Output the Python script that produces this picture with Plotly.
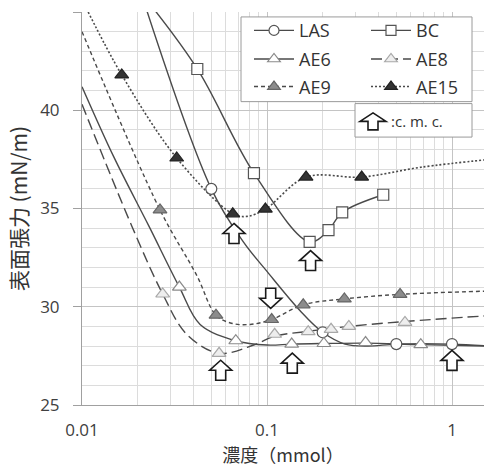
import plotly.graph_objects as go

# ---------------- data ----------------
x_tick_vals = [0.01, 0.1, 1]
x_tick_text = ["0.01", "0.1", "1"]
y_tick_vals = [25, 30, 35, 40, 45]

series_names = ["LAS", "BC", "AE6", "AE8", "AE9", "AE15"]

las_x = [0.05, 0.2, 0.5, 1.0]
las_y = [36.0, 28.7, 28.1, 28.1]
las_curve_x = [0.02, 0.05, 0.0745, 0.1, 0.151, 0.2, 0.264, 0.35, 0.5, 1.0, 1.6]
las_curve_y = [46.5, 36.0, 33.3, 31.8, 29.8, 28.7, 28.1, 28.0, 28.1, 28.1, 28.0]

bc_x = [0.042, 0.085, 0.17, 0.215, 0.255, 0.425]
bc_y = [42.1, 36.8, 33.3, 33.9, 34.8, 35.7]
bc_curve_x = [0.022, 0.042, 0.085, 0.17, 0.215, 0.255, 0.425]
bc_curve_y = [45.7, 42.1, 36.8, 33.3, 33.9, 34.8, 35.7]

ae6_x = [0.0336, 0.0678, 0.136, 0.203, 0.341, 0.678]
ae6_y = [31.0, 28.27, 28.1, 28.13, 28.18, 28.07]
ae6_curve_x = [0.01, 0.0149, 0.023, 0.0336, 0.0435, 0.0678, 0.1, 0.136, 0.203, 0.341, 0.678, 1.6]
ae6_curve_y = [41.2, 37.6, 34.1, 31.0, 29.1, 28.27, 28.05, 28.1, 28.13, 28.15, 28.07, 28.0]

ae8_x = [0.0273, 0.0551, 0.110, 0.167, 0.222, 0.277, 0.557]
ae8_y = [30.65, 27.63, 28.6, 28.73, 28.85, 29.0, 29.2]
ae8_curve_x = [0.01, 0.0186, 0.0273, 0.0368, 0.0551, 0.0862, 0.110, 0.167, 0.277, 0.557, 1.6]
ae8_curve_y = [40.3, 34.1, 30.65, 28.6, 27.63, 28.08, 28.5, 28.75, 29.0, 29.25, 29.55]

ae9_x = [0.0264, 0.053, 0.106, 0.157, 0.262, 0.524]
ae9_y = [34.93, 29.57, 29.35, 30.1, 30.4, 30.63]
ae9_curve_x = [0.01, 0.0264, 0.0417, 0.053, 0.065, 0.081, 0.106, 0.157, 0.262, 0.524, 1.6]
ae9_curve_y = [44.0, 34.93, 31.6, 29.57, 29.15, 29.1, 29.35, 30.1, 30.4, 30.63, 30.8]

ae15_x = [0.0164, 0.0325, 0.0653, 0.098, 0.1626, 0.325]
ae15_y = [41.8, 37.57, 34.73, 34.97, 36.6, 36.6]
ae15_curve_x = [0.0108, 0.0164, 0.0325, 0.0653, 0.078, 0.098, 0.1626, 0.325, 0.68, 1.6]
ae15_curve_y = [45.0, 41.8, 37.57, 34.73, 34.6, 34.97, 36.6, 36.6, 37.1, 37.5]

# c.m.c. arrows: concentration, vertical placement, direction
cmc_x = [0.0663, 0.172, 0.1047, 0.0562, 0.137, 1.0]
cmc_arrow_y = [33.73, 32.35, 30.43, 26.77, 27.13, 27.27]
cmc_dir = ["up", "up", "down", "up", "up", "up"]

cmc_label = ":c. m. c."
x_title = "濃度（mmol）"
y_title = "表面張力 (mN/m)"

# ---------------- styles ----------------
LINE = "#4a4a4a"
styles = {
    "LAS": dict(dash="solid", symbol="circle", fill="white", edge="#555555", size=11),
    "BC": dict(dash="solid", symbol="square", fill="white", edge="#555555", size=11),
    "AE6": dict(dash="solid", symbol="triangle-up", fill="white", edge="#8a8a8a", size=12),
    "AE8": dict(dash="11px,5px", symbol="triangle-up", fill="#eeeeee", edge="#a8a8a8", size=12),
    "AE9": dict(dash="4px,3px", symbol="triangle-up", fill="#8c8c8c", edge="#666666", size=12),
    "AE15": dict(dash="2px,2px", symbol="triangle-up", fill="#333333", edge="#222222", size=12),
}
data = {
    "LAS": (las_x, las_y, las_curve_x, las_curve_y),
    "BC": (bc_x, bc_y, bc_curve_x, bc_curve_y),
    "AE6": (ae6_x, ae6_y, ae6_curve_x, ae6_curve_y),
    "AE8": (ae8_x, ae8_y, ae8_curve_x, ae8_curve_y),
    "AE9": (ae9_x, ae9_y, ae9_curve_x, ae9_curve_y),
    "AE15": (ae15_x, ae15_y, ae15_curve_x, ae15_curve_y),
}

W, H = 490, 467
ML, MR, MT, MB = 82, 6, 12, 56
PW, PH = W - ML - MR, H - MT - MB

def px2paper_x(px):
    return (px - ML) / PW

def px2paper_y(py):
    return (H - MB - py) / PH

fig = go.Figure()

legend_pos = {
    "LAS": ("legend", 249, 31),
    "AE6": ("legend2", 249, 60),
    "AE9": ("legend3", 249, 88),
    "BC": ("legend4", 366, 31),
    "AE8": ("legend5", 366, 60),
    "AE15": ("legend6", 366, 88),
}

for name in series_names:
    mx, my, cx, cy = data[name]
    st = styles[name]
    lw = 1.4 if name != "AE15" else 1.6
    fig.add_trace(go.Scatter(
        x=cx, y=cy, mode="lines", line=dict(color=LINE, width=lw, dash=st["dash"], shape="spline", smoothing=1.0),
        showlegend=False, hoverinfo="skip"))
for name in series_names:
    mx, my, cx, cy = data[name]
    st = styles[name]
    fig.add_trace(go.Scatter(
        x=mx, y=my, mode="markers", name=name,
        marker=dict(symbol=st["symbol"], size=st["size"], color=st["fill"], line=dict(color=st["edge"], width=1.2)),
        showlegend=False, cliponaxis=False))
for name in series_names:
    st = styles[name]
    lw = 1.4 if name != "AE15" else 1.6
    fig.add_trace(go.Scatter(
        x=[None], y=[None], mode="lines+markers", name=name, legend=legend_pos[name][0],
        line=dict(color=LINE, width=lw, dash=st["dash"]),
        marker=dict(symbol=st["symbol"], size=st["size"] - 1, color=st["fill"], line=dict(color=st["edge"], width=1.2))))

legend_common = dict(bgcolor="rgba(0,0,0,0)", borderwidth=0, xanchor="left", yanchor="middle",
                     font=dict(family="Open Sans", size=18, color="#333333"), itemwidth=40)
layout_legends = {}
for name in series_names:
    key, lx, ly = legend_pos[name]
    layout_legends[key] = dict(x=px2paper_x(lx), y=px2paper_y(ly), **legend_common)

shapes = []
# legend box
shapes.append(dict(type="rect", xref="paper", yref="paper",
                   x0=px2paper_x(241), x1=px2paper_x(472), y0=px2paper_y(103), y1=px2paper_y(17),
                   line=dict(color="#9a9a9a", width=1), fillcolor="white", layer="above"))
# cmc box
shapes.append(dict(type="rect", xref="paper", yref="paper",
                   x0=px2paper_x(355), x1=px2paper_x(472), y0=px2paper_y(139), y1=px2paper_y(105),
                   line=dict(color="#9a9a9a", width=1), fillcolor="white", layer="above"))

def arrow_path(hw, sw, hh, sh, direction):
    s = 1 if direction == "up" else -1
    top = (hh + sh) / 2
    pts = [(0, top), (hw, top - hh), (sw, top - hh), (sw, -top), (-sw, -top), (-sw, top - hh), (-hw, top - hh)]
    return "M" + " L".join(f"{x:.1f},{s * y:.1f}" for x, y in pts) + " Z"

for cx_, cy_, d in zip(cmc_x, cmc_arrow_y, cmc_dir):
    shapes.append(dict(type="path", xref="x", yref="y", xsizemode="pixel", ysizemode="pixel",
                       xanchor=cx_, yanchor=cy_, path=arrow_path(11, 5, 10, 10, d),
                       line=dict(color="#1a1a1a", width=1.6), fillcolor="white", layer="above"))
# arrow symbol in cmc legend box
shapes.append(dict(type="path", xref="paper", yref="paper", xsizemode="pixel", ysizemode="pixel",
                   xanchor=px2paper_x(373), yanchor=px2paper_y(123), path=arrow_path(13, 5, 8.5, 8.5, "up"),
                   line=dict(color="#1a1a1a", width=1.6), fillcolor="white", layer="above"))

annotations = [dict(xref="paper", yref="paper", x=px2paper_x(389), y=px2paper_y(123), xanchor="left", yanchor="middle",
                    text=cmc_label, showarrow=False, font=dict(family="Open Sans", size=15, color="#333333"))]

tickfont = dict(family="Open Sans", size=17, color="#404040")
fig.update_layout(
    width=W, height=H, margin=dict(l=ML, r=MR, t=MT, b=MB, pad=0),
    paper_bgcolor="white", plot_bgcolor="white",
    shapes=shapes, annotations=annotations,
    **layout_legends,
    xaxis=dict(type="log", range=[-2, 0.173], tickvals=x_tick_vals, ticktext=x_tick_text,
               showgrid=True, gridcolor="#c4c4c4", gridwidth=1,
               minor=dict(dtick="D1", showgrid=True, gridcolor="#dcdcdc", gridwidth=1, ticks=""),
               showline=True, linecolor="#a0a0a0", linewidth=1, ticks="", tickfont=tickfont,
               ticklabelstandoff=10, zeroline=False,
               title=dict(text=x_title, font=dict(family="Noto Sans CJK JP", size=18, color="#333333"), standoff=7)),
    yaxis=dict(range=[25, 45], tickvals=y_tick_vals, showgrid=True, gridcolor="#c4c4c4", gridwidth=1,
               minor=dict(dtick=1, showgrid=True, gridcolor="#dcdcdc", gridwidth=1, ticks=""),
               showline=True, linecolor="#a0a0a0", linewidth=1, ticks="outside", ticklen=8, tickcolor="#a0a0a0",
               tickfont=tickfont, ticklabelstandoff=10, zeroline=False,
               title=dict(text=y_title, font=dict(family="Noto Sans CJK JP", size=21, color="#333333"), standoff=6)),
)

fig.write_html("out.html")
